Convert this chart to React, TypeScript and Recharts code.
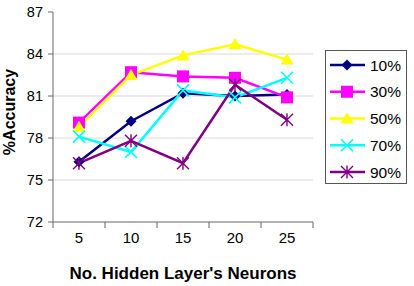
import React from "react";
import { LineChart, Line, XAxis, YAxis, ReferenceLine, Legend, Label } from "recharts";

const neurons = [5, 10, 15, 20, 25];
const acc10 = [76.3, 79.2, 81.2, 81.0, 81.1];
const acc30 = [79.1, 82.7, 82.4, 82.3, 80.9];
const acc50 = [78.8, 82.5, 83.9, 84.7, 83.6];
const acc70 = [78.1, 77.0, 81.4, 80.9, 82.3];
const acc90 = [76.2, 77.8, 76.2, 81.8, 79.3];
const yTicks = [72, 75, 78, 81, 84, 87];

const FONT = '"Liberation Sans", Arial, sans-serif';

type Shape = "diamond" | "square" | "triangle" | "cross" | "star";

const SERIES: { key: string; name: string; color: string; shape: Shape; values: number[] }[] = [
    { key: "a10", name: "10%", color: "#000080", shape: "diamond", values: acc10 },
    { key: "a30", name: "30%", color: "#ff00ff", shape: "square", values: acc30 },
    { key: "a50", name: "50%", color: "#ffff00", shape: "triangle", values: acc50 },
    { key: "a70", name: "70%", color: "#00ffff", shape: "cross", values: acc70 },
    { key: "a90", name: "90%", color: "#800080", shape: "star", values: acc90 },
];

const data = neurons.map((n, i) => {
    const row: any = { n };
    SERIES.forEach((s) => (row[s.key] = s.values[i]));
    return row;
});

// category slots are 5 wide, tick marks sit on the slot edges
const half = 2.5;
const edges = [neurons[0] - half, ...neurons.map((n) => n + half)];
const xTicks = [...edges, ...neurons].sort((a, b) => a - b);

function Marker({ shape, cx, cy, color }: { shape: Shape; cx: number; cy: number; color: string }) {
    switch (shape) {
        case "diamond":
            return <polygon points={`${cx},${cy - 5.5} ${cx + 5.5},${cy} ${cx},${cy + 5.5} ${cx - 5.5},${cy}`} fill={color} />;
        case "square":
            return <rect x={cx - 6} y={cy - 6} width={12} height={12} fill={color} />;
        case "triangle":
            return <polygon points={`${cx},${cy - 6} ${cx + 6.5},${cy + 5} ${cx - 6.5},${cy + 5}`} fill={color} />;
        case "cross":
            return (
                <path
                    d={`M${cx - 6},${cy - 6}L${cx + 6},${cy + 6}M${cx + 6},${cy - 6}L${cx - 6},${cy + 6}`}
                    stroke={color}
                    strokeWidth={1.6}
                />
            );
        default:
            return (
                <path
                    d={`M${cx - 6},${cy - 6}L${cx + 6},${cy + 6}M${cx + 6},${cy - 6}L${cx - 6},${cy + 6}M${cx},${cy - 6.5}L${cx},${cy + 6.5}`}
                    stroke={color}
                    strokeWidth={1.4}
                />
            );
    }
}

const XTick = ({ x, y, payload }: any) => {
    if (neurons.includes(payload.value)) {
        return (
            <text x={x} y={y + 21} textAnchor="middle" fontSize={15} fontFamily={FONT} fill="#000">
                {payload.value}
            </text>
        );
    }
    return <line x1={x} x2={x} y1={y} y2={y + 6} stroke="#666" strokeWidth={1} />;
};

const renderLegend = () => (
    <svg width={82} height={134}>
        <rect x={0.5} y={0.5} width={81} height={133} fill="#fff" stroke="#555" />
        {SERIES.map((s, i) => {
            const cy = 15 + i * 26.75;
            return (
                <g key={s.key}>
                    <line x1={5} x2={40} y1={cy} y2={cy} stroke={s.color} strokeWidth={2.5} />
                    <Marker shape={s.shape} cx={22} cy={cy} color={s.color} />
                    <text x={45} y={cy} dominantBaseline="central" fontSize={15.5} fontFamily={FONT} fill="#000">
                        {s.name}
                    </text>
                </g>
            );
        })}
    </svg>
);

export default function App() {
    return (
        <div style={{ position: "absolute", left: 0, top: 0, width: 414, height: 286, background: "#fff" }}>
            <LineChart width={414} height={286} data={data} margin={{ top: 12, right: 101, bottom: 4, left: 0 }}>
                {yTicks.slice(1, -1).map((v) => (
                    <ReferenceLine key={v} y={v} stroke="#d9d9d9" strokeWidth={1} />
                ))}
                <XAxis
                    dataKey="n"
                    type="number"
                    domain={[edges[0], edges[edges.length - 1]]}
                    ticks={xTicks}
                    interval={0}
                    tickLine={false}
                    tickSize={0}
                    tickMargin={0}
                    tick={<XTick />}
                    height={60}
                    axisLine={{ stroke: "#666" }}
                >
                    <Label
                        value="No. Hidden Layer's Neurons"
                        position="insideBottom"
                        offset={3}
                        style={{ fontFamily: FONT, fontSize: 17, fontWeight: "bold", fill: "#000" }}
                    />
                </XAxis>
                <YAxis
                    domain={[72, 87]}
                    ticks={yTicks}
                    interval={0}
                    width={53}
                    tickSize={5}
                    tickMargin={5}
                    tickLine={{ stroke: "#666" }}
                    axisLine={{ stroke: "#666" }}
                    tick={{ fontSize: 14.5, fontFamily: FONT, fill: "#000" }}
                >
                    <Label
                        content={() => (
                            <text
                                x={15}
                                y={112}
                                transform="rotate(-90 15 112)"
                                textAnchor="middle"
                                fontSize={16}
                                fontWeight="bold"
                                fontFamily={FONT}
                                fill="#000"
                            >
                                %Accuracy
                            </text>
                        )}
                    />
                </YAxis>
                <Legend
                    layout="horizontal"
                    verticalAlign="middle"
                    align="center"
                    content={renderLegend}
                    wrapperStyle={{ left: 325, top: 50, width: 82, height: 134 }}
                />
                {SERIES.map((s) => (
                    <Line
                        key={s.key}
                        dataKey={s.key}
                        name={s.name}
                        stroke={s.color}
                        strokeWidth={2.5}
                        isAnimationActive={false}
                        dot={(p: any) => <Marker key={`${s.key}-${p.index}`} shape={s.shape} cx={p.cx} cy={p.cy} color={s.color} />}
                        activeDot={false}
                    />
                ))}
            </LineChart>
        </div>
    );
}
